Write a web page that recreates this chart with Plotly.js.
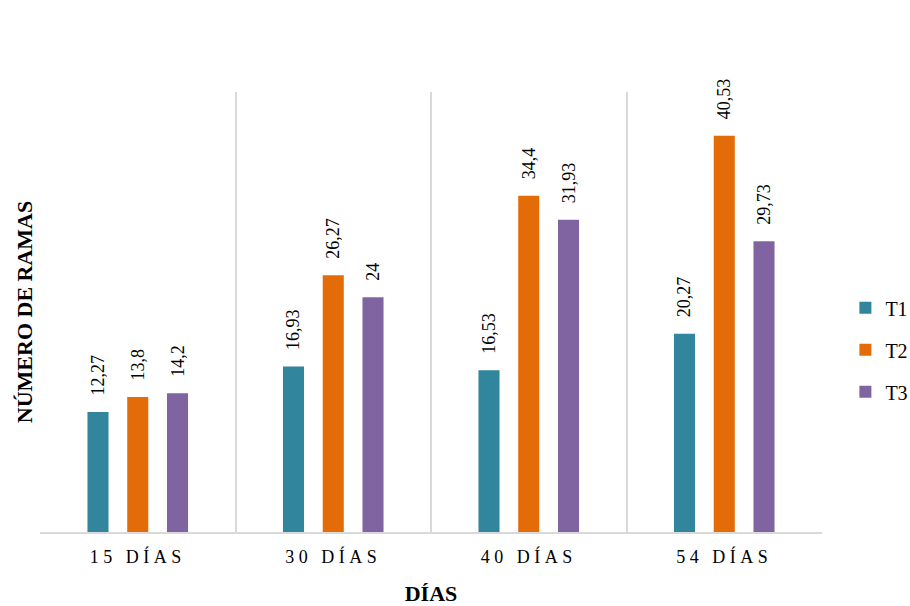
<!DOCTYPE html>
<html>
<head>
<meta charset="utf-8">
<script src="https://cdn.plot.ly/plotly-3.0.1.min.js"></script>
<style>
html,body{margin:0;padding:0;background:#fff;}
#chart{width:910px;height:606px;}
#chart .xtick text{letter-spacing:4.5px;}
</style>
</head>
<body>
<div id="chart"></div>
<script>
const categories = ["15 DÍAS", "30 DÍAS", "40 DÍAS", "54 DÍAS"];
const seriesNames = ["T1", "T2", "T3"];
const t1 = [12.27, 16.93, 16.53, 20.27];
const t2 = [13.8, 26.27, 34.4, 40.53];
const t3 = [14.2, 24, 31.93, 29.73];
const labelsT1 = ["12,27", "16,93", "16,53", "20,27"];
const labelsT2 = ["13,8", "26,27", "34,4", "40,53"];
const labelsT3 = ["14,2", "24", "31,93", "29,73"];
const colors = ["#31859c", "#e36c09", "#8064a2"];

const values = [t1, t2, t3];
const labels = [labelsT1, labelsT2, labelsT3];
const font = "Liberation Serif";

const data = seriesNames.map((name, i) => ({
  type: "bar",
  name: name,
  x: categories,
  y: values[i],
  text: labels[i],
  texttemplate: "\u00a0\u00a0\u00a0%{text}",
  textposition: "outside",
  textangle: -90,
  cliponaxis: false,
  constraintext: "none",
  textfont: {family: font, size: 18, color: "#000"},
  outsidetextfont: {family: font, size: 18, color: "#000"},
  marker: {color: colors[i]},
  legendgroup: name,
  hoverinfo: "skip"
}));

const layout = {
  width: 910, height: 606,
  font: {family: font, color: "#000"},
  margin: {l: 40, r: 88, t: 92, b: 74},
  paper_bgcolor: "#fff", plot_bgcolor: "#fff",
  barmode: "group",
  bargap: 0.39,
  bargroupgap: 0.47,
  showlegend: true,
  legend: {
    xref: "container", x: 0.929, xanchor: "left",
    y: 0.414, yanchor: "middle",
    font: {family: font, size: 20, color: "#000"},
    tracegroupgap: 13,
    itemwidth: 30
  },
  xaxis: {
    type: "category",
    tickson: "boundaries",
    showgrid: true, gridcolor: "#d9d9d9", gridwidth: 2,
    showline: true, linecolor: "#d9d9d9", linewidth: 2,
    ticks: "",
    ticklabelstandoff: 7,
    tickfont: {family: font, size: 18, color: "#000"},
    title: {text: "DÍAS", font: {family: font, size: 22, color: "#000", weight: "bold"}, standoff: 24},
    zeroline: false
  },
  yaxis: {
    range: [0, 45],
    showgrid: false, zeroline: false, showticklabels: false, ticks: "",
    showline: false,
    title: {text: "NÚMERO DE RAMAS", font: {family: font, size: 22, color: "#000", weight: "bold"}, standoff: 0}
  }
};

Plotly.newPlot("chart", data, layout, {displayModeBar: false, staticPlot: true});
</script>
</body>
</html>
